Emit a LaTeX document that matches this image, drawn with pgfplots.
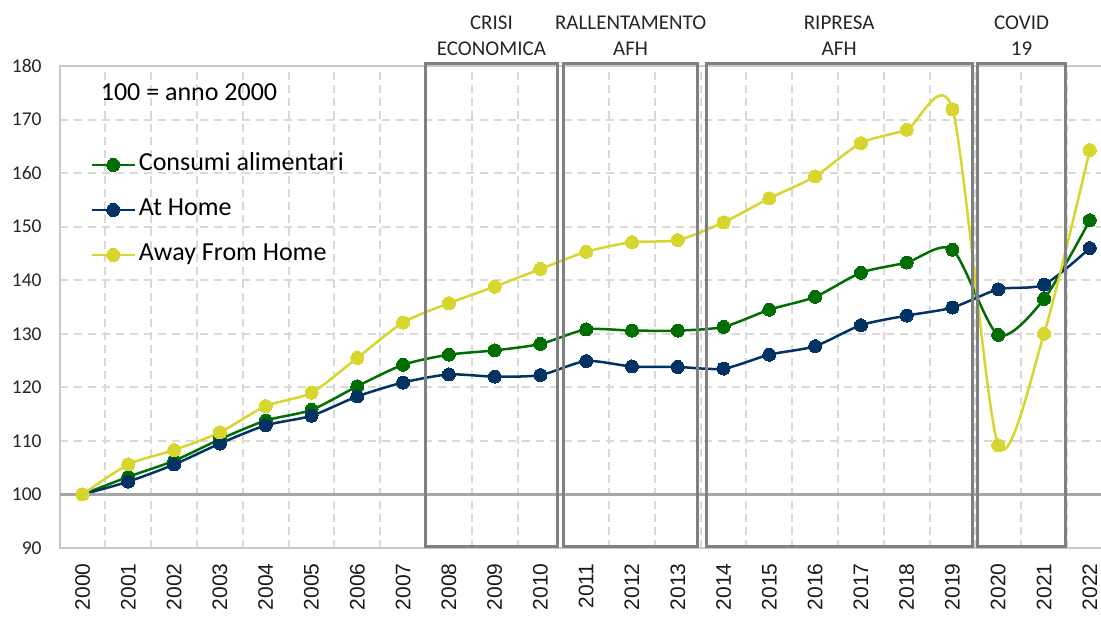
\documentclass[border=0pt]{standalone}
\usepackage{pgfplots}
\pgfplotsset{compat=1.18}
\usepackage{fontspec}
\setmainfont{Carlito}
\newfontfamily\yearfont{Liberation Sans}
\definecolor{cgreen}{RGB}{0,110,0}
\definecolor{cblue}{RGB}{0,50,100}
\definecolor{cyellow}{RGB}{214,214,46}
\definecolor{gridc}{RGB}{217,217,217}
\definecolor{boxc}{RGB}{128,128,128}
\definecolor{axc}{RGB}{200,200,200}
\definecolor{hundred}{RGB}{166,166,166}
\begin{document}
\begin{tikzpicture}
\begin{axis}[
  at={(0,0)}, anchor=south west,
  width=526.5pt, height=241pt, scale only axis,
  xmin=-0.5, xmax=22.5, ymin=90, ymax=180,
  clip=false,
  xtick={0,...,22},
  xticklabels={2000,2001,2002,2003,2004,2005,2006,2007,2008,2009,2010,2011,2012,2013,2014,2015,2016,2017,2018,2019,2020,2021,2022},
  ytick={90,100,...,180},
  minor xtick={0.5,1.5,...,21.5},
  xminorgrids, ymajorgrids,
  major grid style={gridc, line width=1pt, dash pattern=on 4pt off 3pt},
  minor grid style={gridc, line width=1pt, dash pattern=on 4pt off 2.5pt},
  axis line style={axc, line width=1pt},
  major tick length=0pt, minor tick length=0pt,
  /pgf/number format/assume math mode=true,
  yticklabel style={font=\fontsize{9.75}{11}\selectfont, inner sep=0pt, text=black!85},
  yticklabel shift=8.85pt,
  xticklabel style={font=\yearfont\fontsize{10.5}{12}\selectfont, rotate=90, anchor=east, inner sep=0pt, text=black!90},
  xticklabel shift=7.5pt,
  legend style={at={(0.0231,0.7013)}, anchor=west, draw=none, fill=none,
    font=\fontsize{13}{15}\selectfont, row sep=10.5pt, column sep=1.5pt,
    nodes={inner sep=0pt, text height=9pt, text depth=3pt}},
  legend cell align=left,
  legend image code/.code={\draw[mark repeat=2,mark phase=2,#1] plot coordinates {(0pt,0pt)(10.75pt,0pt)(21.5pt,0pt)};},
]
\addplot[cgreen, line width=1.25pt, smooth, tension=0.45, mark=*, mark size=3.25pt, mark options={solid, fill=cgreen, draw=cgreen, line width=0pt}] coordinates {
(0,100) (1,103.3) (2,106.3) (3,110.3) (4,113.8) (5,115.8) (6,120.2) (7,124.2) (8,126.1) (9,126.9) (10,128.1) (11,130.8) (12,130.6) (13,130.6) (14,131.3) (15,134.5) (16,136.9) (17,141.4) (18,143.3) (19,145.7) (20,129.8) (21,136.5) (22,151.2)};
\addlegendentry{Consumi alimentari}
\addplot[cblue, line width=1.25pt, smooth, tension=0.45, mark=*, mark size=3.25pt, mark options={solid, fill=cblue, draw=cblue, line width=0pt}] coordinates {
(0,100) (1,102.4) (2,105.6) (3,109.5) (4,112.9) (5,114.7) (6,118.3) (7,120.9) (8,122.4) (9,122.0) (10,122.3) (11,124.9) (12,123.9) (13,123.8) (14,123.5) (15,126.1) (16,127.7) (17,131.6) (18,133.4) (19,134.9) (20,138.3) (21,139.2) (22,146.0)};
\addlegendentry{At Home}
\addplot[cyellow, line width=1.25pt, smooth, tension=0.45, mark=*, mark size=3.25pt, mark options={solid, fill=cyellow, draw=cyellow, line width=0pt}] coordinates {
(0,100) (1,105.6) (2,108.3) (3,111.6) (4,116.5) (5,119.0) (6,125.5) (7,132.1) (8,135.7) (9,138.8) (10,142.1) (11,145.3) (12,147.1) (13,147.5) (14,150.8) (15,155.3) (16,159.4) (17,165.6) (18,168.1) (19,171.9) (20,109.2) (21,130.0) (22,164.3)};
\addlegendentry{Away From Home}
\draw[hundred, line width=1.5pt] (axis cs:-0.5,100) -- (axis cs:22.5,100);
\draw[boxc, line width=1.5pt] (axis cs:7.48,90.37) rectangle (axis cs:10.38,180.47);
\draw[boxc, line width=1.5pt] (axis cs:10.50,90.37) rectangle (axis cs:13.44,180.47);
\draw[boxc, line width=1.5pt] (axis cs:13.62,90.37) rectangle (axis cs:19.43,180.47);
\draw[boxc, line width=1.5pt] (axis cs:19.55,90.37) rectangle (axis cs:21.47,180.47);
\begin{scope}[every node/.style={font=\fontsize{10.5}{12}\selectfont, text=black!85, inner sep=0pt, anchor=center}]
\node[yshift=21.5pt] at (axis cs:8.93,180) {CRISI};
\node[yshift=8.75pt] at (axis cs:8.93,180) {ECONOMICA};
\node[yshift=21.5pt] at (axis cs:11.97,180) {RALLENTAMENTO};
\node[yshift=8.75pt] at (axis cs:11.97,180) {AFH};
\node[yshift=21.5pt] at (axis cs:16.525,180) {RIPRESA};
\node[yshift=8.75pt] at (axis cs:16.525,180) {AFH};
\node[yshift=21.5pt] at (axis cs:20.51,180) {COVID};
\node[yshift=8.75pt] at (axis cs:20.51,180) {19};
\end{scope}
\node[font=\fontsize{13}{15}\selectfont, inner sep=0pt] at (axis cs:2.324,175.15) {100 = anno 2000};
\end{axis}
\pgfresetboundingbox
\path[use as bounding box] (-29.85pt,-34pt) rectangle (520.65pt,274pt);
\end{tikzpicture}
\end{document}
